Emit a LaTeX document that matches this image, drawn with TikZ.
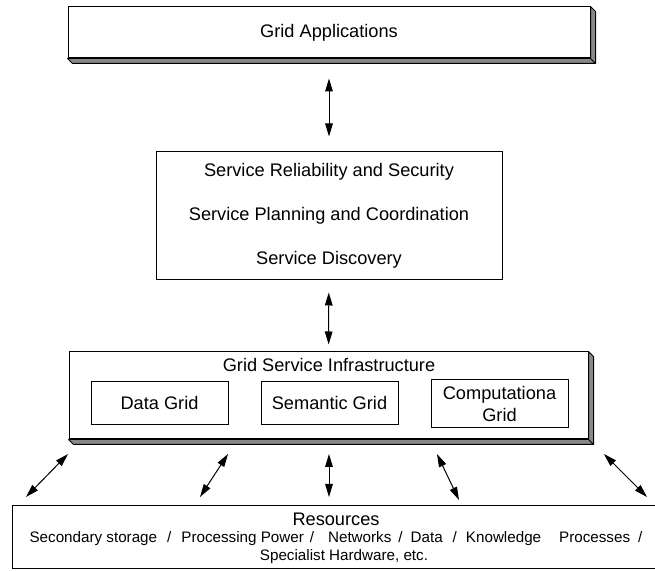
\documentclass[tikz,border=0pt]{standalone}
\usepackage{fontspec}
\setmainfont{Liberation Sans}
\usetikzlibrary{arrows.meta, positioning, calc}
\definecolor{slabgray}{RGB}{136, 136, 136}
\newcommand{\bigfs}{\fontsize{9.1}{11}\selectfont}
\newcommand{\smallfs}{\fontsize{7.6}{9}\selectfont}
\tikzstyle{layer} = [rectangle, draw=black, line width=0.5pt, fill=white, text centered, font=\bigfs]
\tikzstyle{gridbox} = [rectangle, draw=black, line width=0.5pt, minimum width=68.5pt, minimum height=21.5pt, text centered, font=\bigfs]
\tikzstyle{slab} = [fill=slabgray, draw=black, line width=0.5pt, line join=bevel]
\tikzstyle{arrow} = [<->, >={Triangle[length=6.5pt,width=3.8pt]}, line width=0.5pt]

\begin{document}
\begin{tikzpicture}[x=0.5pt, y=-0.5pt]
\useasboundingbox (0,0) rectangle (655,571);

% Layers from top to bottom
\node (apps) [layer, minimum width=261pt, minimum height=25.5pt] at (329,32.5) {Grid Applications};
\node (services) [layer, minimum width=173pt, minimum height=64pt, align=center, font=\fontsize{9.1}{22}\selectfont] at (329,216) {Service Reliability and Security\\Service Planning and Coordination\\Service Discovery};
\node (gsi) [layer, minimum width=259.5pt, minimum height=43.5pt] at (328.5,395.5) {};
\node (gsititle) [font=\bigfs] at (329,365) {Grid Service Infrastructure};
\node (res) [layer, minimum width=323pt, minimum height=31.5pt] at (335,537.5) {};

% Grids inside the infrastructure
\node (data) [gridbox] at (159.5,403.5) {Data Grid};
\node (semantic) [gridbox] at (329.5,403.5) {Semantic Grid};
\node (computational) [gridbox, align=center, font=\fontsize{9.1}{11}\selectfont] at (499.5,403.5) {Computationa\\Grid};

% Resources text
\node (restitle) [font=\bigfs] at (336,519) {Resources};
\node (reslist) [font=\smallfs] at (336,539) {Secondary storage\hspace{5pt}/\hspace{5pt}Processing Power\hspace{3pt}/\hspace{7pt}Networks\hspace{3.5pt}/\hspace{4pt}Data\hspace{5pt}/\hspace{4.5pt}Knowledge\hspace{9pt}Processes\hspace{4pt}/};
\node (resmore) [font=\smallfs] at (344,557) {Specialist Hardware, etc.};

% Raised edges
\draw [slab] (apps.north east) -- ([shift={(2.5pt,-2.5pt)}]apps.north east) -- ([shift={(2.5pt,-2.5pt)}]apps.south east) -- ([shift={(2.5pt,-2.5pt)}]apps.south west) -- (apps.south west) -- (apps.south east) -- cycle;
\draw [slab] (apps.south east) -- ([shift={(2.5pt,-2.5pt)}]apps.south east);
\draw [slab] (gsi.north east) -- ([shift={(2.5pt,-2.5pt)}]gsi.north east) -- ([shift={(2.5pt,-2.5pt)}]gsi.south east) -- ([shift={(2.5pt,-2.5pt)}]gsi.south west) -- (gsi.south west) -- (gsi.south east) -- cycle;
\draw [slab] (gsi.south east) -- ([shift={(2.5pt,-2.5pt)}]gsi.south east);

% Arrows between layers
\draw [arrow, shorten <=10pt, shorten >=7.5pt] (apps) -- (services);
\draw [arrow, shorten <=6pt, shorten >=3.5pt] (services) -- (gsi);

% Arrows to resources
\coordinate (g1) at (68,454);  \coordinate (r1) at (26,497);
\coordinate (g2) at (228,454); \coordinate (r2) at (200,497);
\coordinate (g3) at (329,454); \coordinate (r3) at (329,497);
\coordinate (g4) at (437,454); \coordinate (r4) at (459,500);
\coordinate (g5) at (604,454); \coordinate (r5) at (647,497);
\draw [arrow] (g1) -- (r1);
\draw [arrow] (g2) -- (r2);
\draw [arrow] (g3) -- (r3);
\draw [arrow] (g4) -- (r4);
\draw [arrow] (g5) -- (r5);

\end{tikzpicture}
\end{document}
